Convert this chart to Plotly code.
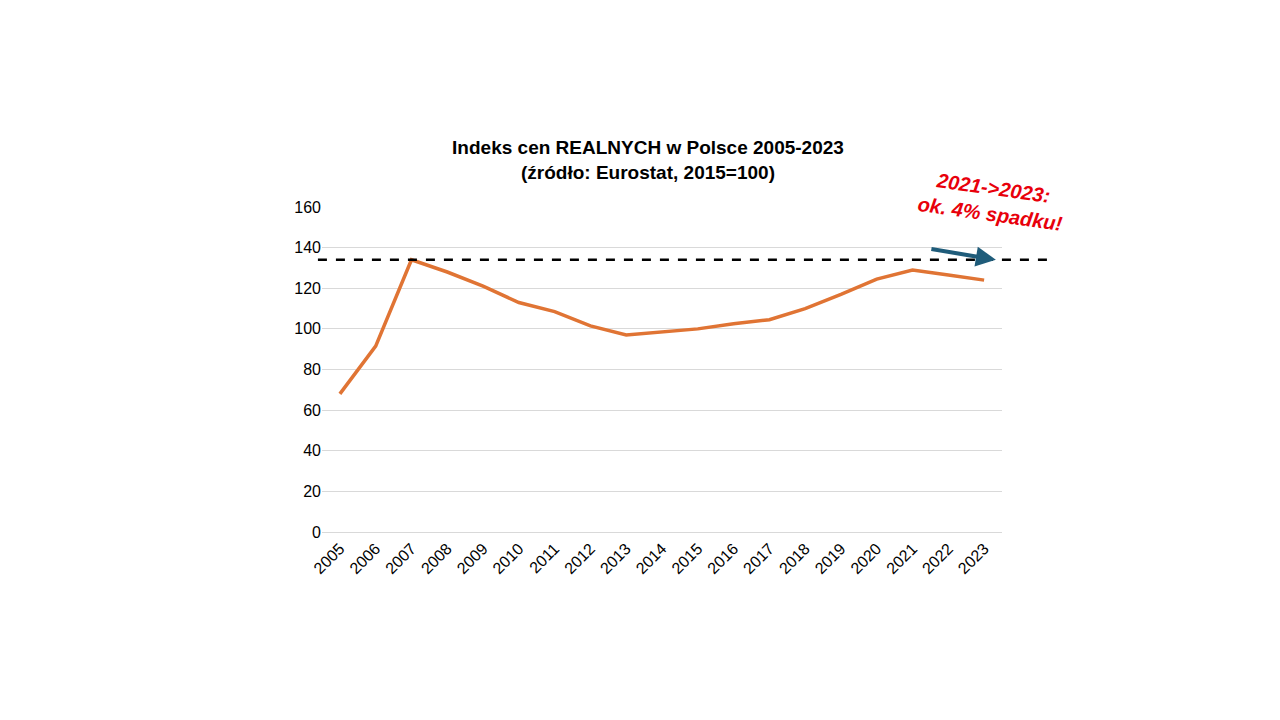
import plotly.graph_objects as go

years = [str(y) for y in range(2005, 2024)]
values = [68, 91.5, 134, 128, 121, 113, 108.5, 101.5, 97, 98.5, 100, 102.5, 104.5, 110, 117, 124.5, 129, 126.5, 124]
ref_level = 134

fig = go.Figure()
fig.add_trace(go.Scatter(x=years, y=values, mode="lines",
                         line=dict(color="#E07434", width=3.5), hoverinfo="x+y"))

fig.update_layout(
    width=1280, height=720, paper_bgcolor="white", plot_bgcolor="white",
    margin=dict(l=314, r=286, t=199, b=196),
    showlegend=False,
    font=dict(family="Liberation Sans, Arial", size=16, color="black"),
    title=dict(text="<b>Indeks cen REALNYCH w Polsce 2005-2023<br>(źródło: Eurostat, 2015=100)</b>",
               x=0.5, xanchor="center", y=0.797, yanchor="middle", font=dict(size=19)),
    xaxis=dict(type="category", range=[-0.5, 18.5], tickangle=-45, showgrid=False, showline=True,
               linecolor="#d9d9d9", ticks="", tickfont=dict(size=16)),
    yaxis=dict(range=[0, 160], dtick=20, gridcolor="#d9d9d9", zeroline=False,
               showline=False, ticks="", tickfont=dict(size=16)),
)

fig.add_shape(type="line", xref="paper", yref="y", x0=-0.006, x1=1.068, y0=ref_level, y1=ref_level,
              line=dict(color="black", width=2.5, dash="dash"))

fig.add_annotation(xref="paper", yref="paper", x=1.1, y=1.13, text="<b><i>2021->2023:<br>ok. 4% spadku!</i></b>",
                   showarrow=False, textangle=8, font=dict(color="#E8000B", size=20, family="Liberation Sans, Arial"))

fig.add_annotation(x=0.991, y=ref_level, ax=-66, ay=-11,
                   xref="paper", yref="y", axref="pixel", ayref="pixel",
                   showarrow=True, arrowhead=2, arrowsize=1, arrowwidth=4, arrowcolor="#1F5C7A", text="")

fig.write_html("out.html")
